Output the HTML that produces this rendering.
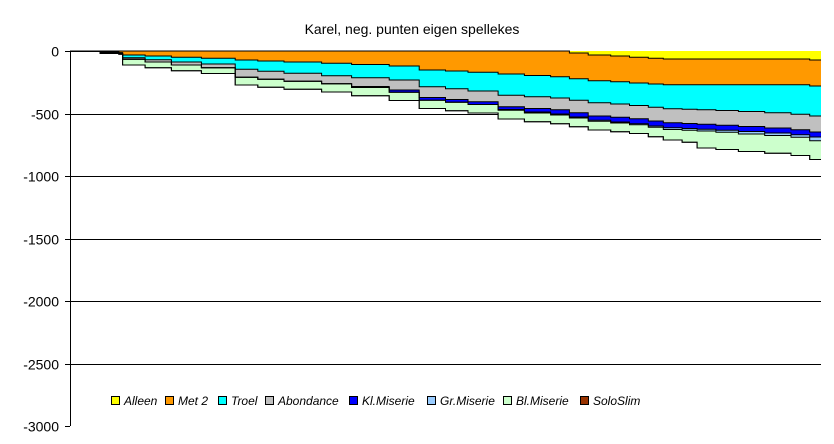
<!DOCTYPE html>
<html><head><meta charset="utf-8"><style>
body{margin:0;background:#fff;}
svg{display:block;font-family:"Liberation Sans",Arial,sans-serif;}
</style></head><body>
<svg id="chart" width="834" height="444" viewBox="0 0 834 444">
<text x="412" y="34" text-anchor="middle" font-size="14">Karel, neg. punten eigen spellekes</text>
<g id="grid"></g>
<g id="areas"></g>
<g id="axis"></g>
<g id="legend"></g>
</svg>
<script>
const games     = [0, 8, 13, 14, 20, 27, 35, 44, 50, 57, 67, 75, 85, 93, 100, 106, 114, 121, 128, 133, 138, 144, 149, 154, 158, 163, 167, 172, 178, 185, 192, 197, 200];
const seriesNames = ["Alleen","Met 2","Troel","Abondance","Kl.Miserie","Gr.Miserie","Bl.Miserie","SoloSlim"];
const alleen    = [0,0,0,0,0,0,0,0,0,0,0,0,0,0,0,0,0,0,0,16,32,40,50,58,64,64,64,64,64,64,64,72,72];
const met2      = [0,8,14,32,40,50,58,72,80,88,98,108,120,152,160,170,184,196,206,206,206,206,206,206,206,206,206,206,206,206,206,208,208];
const troel     = [0,0,0,22,30,38,46,74,82,90,100,106,112,134,142,150,170,170,170,172,176,178,180,186,192,196,200,206,214,224,236,240,240];
const abondance = [0,6,6,12,18,24,30,64,64,64,64,70,80,86,86,86,92,94,94,100,106,106,106,110,112,114,116,118,120,122,124,128,128];
const klMiserie = [0,0,0,0,0,0,0,0,0,0,0,8,18,22,22,22,22,28,34,34,34,38,40,40,40,40,40,40,40,40,40,40,40];
const grMiserie = [0,0,0,0,0,0,0,0,0,0,0,0,0,0,0,0,6,8,8,8,8,8,8,10,14,14,14,16,20,20,20,30,30];
const blMiserie = [0,6,6,46,46,46,46,62,64,64,66,66,66,66,68,68,70,70,70,70,70,70,70,76,84,96,136,138,140,142,146,150,150];
const soloSlim  = [0,0,0,0,0,0,0,0,0,0,0,0,0,0,0,0,0,0,0,0,0,0,0,0,0,0,0,0,0,0,0,0,0];
const yTicks = [0,-500,-1000,-1500,-2000,-2500,-3000];
const colors = ["#ffff00","#ff9900","#00ffff","#c0c0c0","#0000ff","#99ccff","#ccffcc","#993300"];
const seriesData = [alleen,met2,troel,abondance,klMiserie,grMiserie,blMiserie,soloSlim];

const NS="http://www.w3.org/2000/svg";
const X0=70,X1=821,Y0=51,Y1=426;
const gMax=200;
const xS=g=>X0+(X1-X0)*g/gMax;
const yS=v=>Y0+(Y1-Y0)*(0-v)/3000;
function mk(tag,attrs,parent){const e=document.createElementNS(NS,tag);for(const k in attrs)e.setAttribute(k,attrs[k]);parent.appendChild(e);return e;}

const grid=document.getElementById('grid');
const axis=document.getElementById('axis');
yTicks.forEach(t=>{
  const y=Math.round(yS(t))+0.5;
  if(t!==-3000){const l=mk('line',{x1:X0,x2:X1,y1:y,y2:y,stroke:'#000','stroke-width':1},grid);
  
  }
  const tk=mk('line',{x1:X0-5,x2:X0,y1:y,y2:y,stroke:'#000'},axis);
  
  
  const tx=mk('text',{x:X0-11,y:y+5,'text-anchor':'end','font-size':14},axis);
  tx.textContent=t;
  
  
});
const ax=mk('line',{x1:X0+0.5,x2:X0+0.5,y1:Y0,y2:Y1,stroke:'#000'},axis);



const n=games.length;
const cum=[new Array(n).fill(0)];
seriesData.forEach((s,k)=>{cum.push(cum[k].map((v,i)=>v+s[i]));});
function stepPts(arr){
  const pts=[];
  for(let i=0;i<n;i++){
    const xa=xS(games[i]), xb=i<n-1?xS(games[i+1]):X1;
    const y=yS(-arr[i]);
    pts.push([xa,y],[xb,y]);
  }
  return pts;
}
const areas=document.getElementById('areas');
seriesData.forEach((s,k)=>{
  const top=stepPts(cum[k]), bot=stepPts(cum[k+1]).reverse();
  const d='M'+top.concat(bot).map(p=>p[0].toFixed(1)+','+p[1].toFixed(1)).join('L')+'Z';
  const p=mk('path',{d:d,fill:colors[k],stroke:'none'},areas);
  
  
});
for(let k=1;k<=seriesData.length;k++){
  const pts=stepPts(cum[k]);
  const l=mk('polyline',{points:pts.map(p=>p[0].toFixed(1)+','+(p[1]).toFixed(1)).join(' '),fill:'none',stroke:'#000','stroke-width':1},areas);
  
  
}

const legend=document.getElementById('legend');
const legX=[111,165,218,265,349,427,503,580];
seriesNames.forEach((nm,k)=>{
  const g=mk('g',{},legend);
  
  
  mk('rect',{x:legX[k]+0.5,y:396.5,width:8,height:8,fill:colors[k],stroke:'#000'},g);
  const t=mk('text',{x:legX[k]+13,y:405,'font-size':12,'font-style':'italic'},g);
  t.textContent=nm;
});
</script>
</body></html>
